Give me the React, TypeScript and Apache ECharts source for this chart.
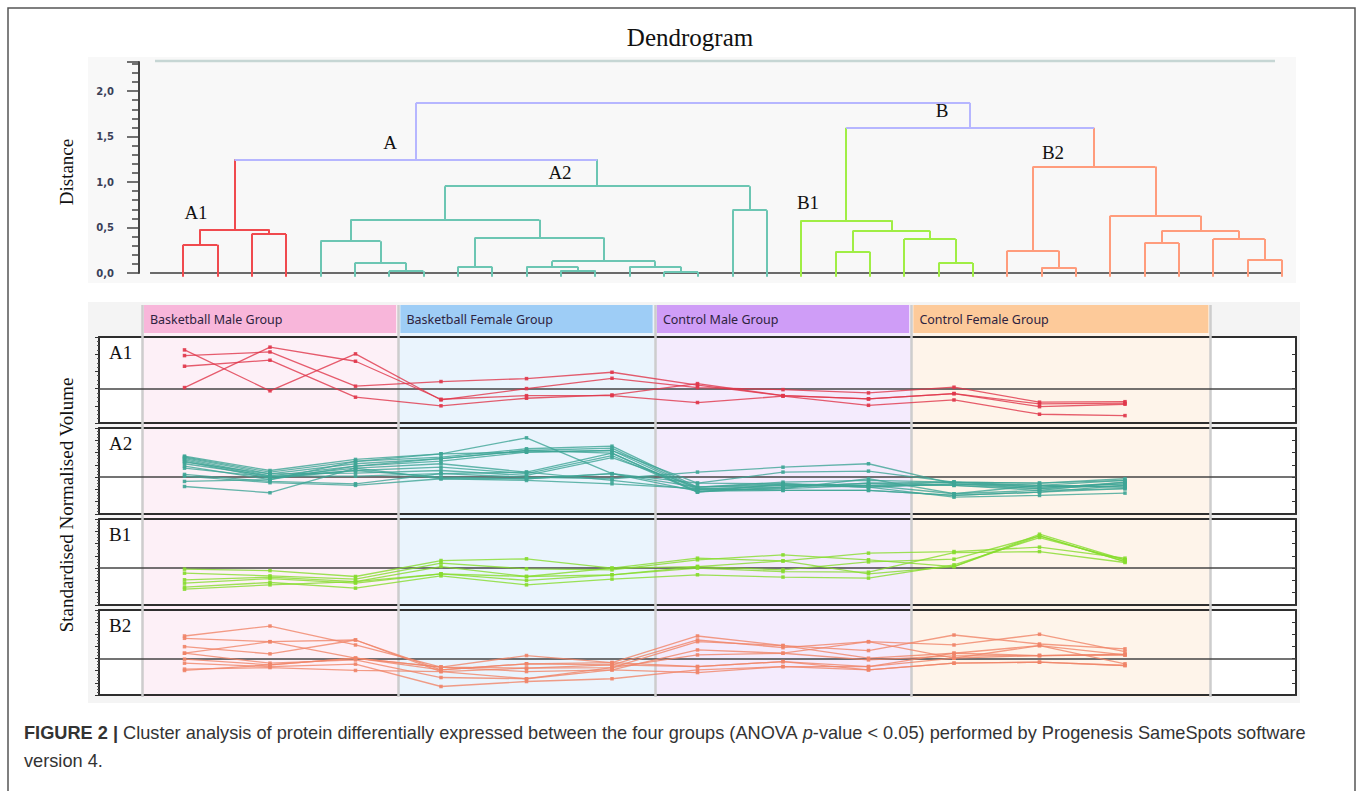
import React, { useEffect, useRef } from 'react';
import * as echarts from 'echarts';

// ---------------- Dendrogram data ----------------
const leafCount = 33;
const leafBottom = -0.04;
// merge k creates node id leafCount + k
const mergePairs: [number, number][] = [
  [0, 1], [2, 3], [33, 34],
  [6, 7], [5, 36], [4, 37], [8, 9], [11, 12], [10, 40], [14, 15], [13, 42], [41, 43], [39, 44], [38, 45], [16, 17], [46, 47],
  [35, 48],
  [19, 20], [22, 23], [21, 51], [50, 52], [18, 53],
  [25, 26], [24, 55], [28, 29], [31, 32], [30, 58], [57, 59], [27, 60], [56, 61],
  [54, 62],
  [49, 63],
];
const mergeHeights = [
  0.31, 0.43, 0.48,
  0.02, 0.11, 0.35, 0.07, 0.03, 0.07, 0.01, 0.07, 0.13, 0.39, 0.585, 0.69, 0.955,
  1.25,
  0.235, 0.11, 0.375, 0.465, 0.58,
  0.06, 0.245, 0.33, 0.145, 0.375, 0.465, 0.63, 1.17,
  1.597,
  1.87,
];
const mergeCluster = [
  'A1', 'A1', 'A1',
  'A2', 'A2', 'A2', 'A2', 'A2', 'A2', 'A2', 'A2', 'A2', 'A2', 'A2', 'A2', 'A2',
  'top',
  'B1', 'B1', 'B1', 'B1', 'B1',
  'B2', 'B2', 'B2', 'B2', 'B2', 'B2', 'B2', 'B2',
  'top',
  'top',
];
const clusterLabels = ['A1', 'A', 'A2', 'B1', 'B', 'B2'];
const clusterLabelPos: [number, number][] = [[196, 212], [390, 142], [560, 172], [808, 202], [942, 110], [1053, 152]];

// ---------------- Profile data ----------------
const groupNames = ['Basketball Male Group', 'Basketball Female Group', 'Control Male Group', 'Control Female Group'];
const groupBounds = [-0.5, 2.5, 5.5, 8.5, 12];
const panelNames = ['A1', 'A2', 'B1', 'B2'];

const profilesA1 = [
  [2.25, -0.13, 2.02, -0.66, 0.0, 0.6, 0.06, -0.06, -0.25, 0.08, -0.79, -0.76],
  [0.06, 2.41, 1.59, -0.62, -0.41, -0.41, -0.81, -0.44, -0.97, -0.66, -1.49, -1.57],
  [1.92, 2.13, 0.14, 0.41, 0.58, 0.95, 0.2, -0.41, -0.6, -0.29, -0.89, -0.85],
  [1.3, 1.65, -0.5, -1.0, -0.56, -0.37, 0.29, -0.41, -0.6, -0.29, -1.05, -0.91],
];
const profilesA2 = [
  [1.71, 0.54, 1.44, 1.9, 3.2, 0.28, -0.49, -0.54, -0.67, -0.41, -0.81, -0.54],
  [1.65, 0.4, 1.28, 1.63, 2.31, 2.52, -0.81, -0.67, -0.81, -0.54, -0.94, -0.67],
  [1.58, 0.27, 1.09, 1.5, 2.17, 2.36, -0.94, -0.81, -0.49, -0.67, -1.08, -0.41],
  [1.5, 0.1, 0.89, 1.3, 2.03, 2.17, -1.02, -0.94, -0.67, -1.35, -0.67, -0.27],
  [1.41, 0.0, 0.73, 1.09, 0.41, 1.95, -1.14, -1.08, -1.08, -1.49, -1.22, -0.94],
  [1.3, -0.1, 0.54, 0.81, 0.28, 1.76, -1.22, -0.54, -0.81, -1.63, -1.49, -1.3],
  [1.22, 0.27, 0.33, 0.54, 0.14, 1.58, -0.81, -0.41, -0.27, -0.41, -0.49, -0.13],
  [1.09, 0.1, 0.08, 0.28, 0.0, -0.13, 0.41, 0.81, 1.09, -0.54, -0.81, -0.54],
  [0.89, -0.2, 1.28, 1.9, 2.03, 2.17, -0.49, 0.41, 0.49, -0.41, -0.67, -0.81],
  [0.73, 0.0, 0.54, 0.0, -0.13, 0.28, -1.14, -0.94, -0.13, -1.35, -1.08, -0.94],
  [0.22, -0.35, -0.54, 0.28, 0.41, -0.27, -1.02, -0.67, -0.67, -0.67, -0.94, -0.41],
  [0.08, -0.45, -0.67, -0.13, -0.27, -0.54, -0.94, -1.08, -1.08, -1.49, -1.22, -0.67],
  [-0.35, -0.2, 0.89, 1.5, 2.17, 1.95, -1.22, -0.81, -0.49, -0.41, -0.49, -0.27],
  [-0.76, -1.27, 0.73, -0.13, -0.13, 0.28, -0.81, -0.54, -0.81, -0.54, -0.67, -0.81],
];
const profilesB1 = [
  [-0.08, -0.2, -0.68, 0.62, 0.76, 0.0, 0.81, 0.59, 1.22, 1.35, 1.71, 0.81],
  [-0.41, -0.63, -0.89, 0.41, -0.06, -0.14, 0.68, 1.08, 0.68, 0.13, 2.76, 0.68],
  [-0.95, -0.73, -1.09, 0.13, -0.68, 0.0, 0.13, -0.14, 0.51, 0.73, 2.63, 0.54],
  [-1.22, -0.85, -1.22, -0.46, -1.0, -0.54, 0.0, -0.28, -0.33, 1.27, 1.35, 0.46],
  [-1.54, -1.17, -1.63, -0.63, -1.36, -0.89, -0.54, -0.73, -0.81, 0.27, 2.49, 0.68],
  [-1.71, -1.36, -1.09, -0.46, -0.68, -0.54, 0.13, 0.59, -0.46, 0.13, 2.63, 0.54],
];
const profilesB2 = [
  [1.86, 2.68, 1.12, -0.7, 0.25, -0.33, 1.86, 1.07, 0.66, 1.94, 1.2, 0.8],
  [1.67, 1.39, 1.53, -0.93, -0.43, -0.52, 1.53, 0.9, 1.39, 1.12, 2.0, 0.57],
  [0.98, 0.39, 1.53, -1.07, -0.79, -0.74, 1.39, 1.07, 0.03, 0.44, 1.07, 0.3],
  [0.44, 1.39, 0.03, -0.7, -1.07, -0.93, 0.71, 0.44, -0.11, 0.22, 0.25, 0.36],
  [0.44, -0.38, -0.11, -1.56, -1.66, -0.74, 0.3, 0.44, 1.39, 0.03, 1.07, -0.43],
  [-0.05, -0.52, 0.03, -0.93, -0.43, -0.33, -0.66, -0.25, -0.66, 0.44, 0.25, 0.3],
  [-0.38, -0.66, -0.46, -2.3, -1.89, -1.66, -0.93, -0.66, -0.93, -0.38, -0.3, -0.57],
  [-0.87, -0.74, -0.98, -1.07, -1.66, -0.93, -1.15, -0.66, -0.66, 0.03, 0.25, 0.3],
  [-0.98, -0.52, 0.03, -0.7, -0.79, -0.52, -0.66, -0.25, -0.93, -0.38, -0.3, -0.57],
];
const panelProfiles = [profilesA1, profilesA2, profilesB1, profilesB2];
const panelRanges: [number, number][] = [[-2, 3], [-3, 4], [-3, 4], [-3, 4]];

// ---------------- Styles ----------------
const clusterColors: Record<string, string> = {
  A1: '#f04a4e', A2: '#6cc6b3', B1: '#a0ee45', B2: '#ff9c7c', top: '#b6b6ff',
};
const profileColors = ['#e0364a', '#3ea596', '#86dc2c', '#f08468'];
const headerColors = ['#f8b6da', '#9ecdf6', '#cf9df7', '#fdca9a'];
const columnColors = ['#fdf0f7', '#eaf4fd', '#f4ebfd', '#fef4ea'];
const serif = '"Liberation Serif", "Times New Roman", serif';
const sans = '"Liberation Sans", Arial, sans-serif';

const panelTops = [337, 428, 519, 610];
const panelHeights = [86, 86, 86, 85];

export default function App() {
  const ref = useRef<HTMLDivElement>(null);
  useEffect(() => {
    if (!ref.current) return;
    const chart = echarts.init(ref.current, null, { renderer: 'svg' });

    // dendrogram geometry from the tree
    const nodeX: number[] = [];
    const nodeH: number[] = [];
    const nodeCl: string[] = [];
    for (let i = 0; i < leafCount; i++) { nodeX[i] = i; nodeH[i] = leafBottom; }
    mergePairs.forEach(([l, r], k) => {
      const id = leafCount + k;
      nodeX[id] = (nodeX[l] + nodeX[r]) / 2;
      nodeH[id] = mergeHeights[k];
      nodeCl[id] = mergeCluster[k];
    });
    const segs: any[] = [];
    segs.push({ coords: [[-0.96, 0], [leafCount - 1 + 0.03, 0]], lineStyle: { color: '#6a6a6a', width: 2, opacity: 1 } });
    mergePairs.forEach(([l, r], k) => {
      const h = mergeHeights[k];
      const col = clusterColors[mergeCluster[k]];
      [l, r].forEach((c) => {
        const cc = c < leafCount ? col : clusterColors[nodeCl[c]];
        segs.push({ coords: [[nodeX[c], h], [nodeX[c], nodeH[c]]], lineStyle: { color: cc, width: 2, opacity: 1 } });
      });
      segs.push({ coords: [[nodeX[l], h], [nodeX[r], h]], lineStyle: { color: col, width: 2, opacity: 1 } });
    });

    const grids: any[] = [
      { left: 139, top: 62, width: 1151, height: 211 },
      { left: 99, top: 305, width: 1197, height: 392 },
      { left: 99, top: 305, width: 1197, height: 28 },
    ];
    const xAxes: any[] = [
      { type: 'value', gridIndex: 0, min: -1.2813, max: 32.236, show: false, axisLine: { onZero: false } },
      { type: 'value', gridIndex: 1, min: -1, max: 13, show: false, axisLine: { onZero: false } },
      { type: 'value', gridIndex: 2, min: -1, max: 13, show: false, axisLine: { onZero: false } },
    ];
    const yAxes: any[] = [
      {
        type: 'value', gridIndex: 0, min: 0, max: 2.32, interval: 0.5, z: 4,
        axisLine: { show: true, onZero: false, lineStyle: { color: '#444', width: 2 } },
        axisTick: { show: true, length: 12, lineStyle: { color: '#444', width: 1.5 } },
        minorTick: { show: true, splitNumber: 5, length: 7, lineStyle: { color: '#444', width: 1.5 } },
        splitLine: { show: false },
        axisLabel: {
          show: true, margin: 25, showMaxLabel: false, fontSize: 10, fontWeight: 'bold',
          fontFamily: '"DejaVu Sans", Verdana, sans-serif', color: '#3a3f58',
          formatter: (v: number) => v.toFixed(1).replace('.', ','),
        },
      },
      { type: 'value', gridIndex: 1, min: 0, max: 1, show: false, axisLine: { onZero: false } },
      { type: 'value', gridIndex: 2, min: 0, max: 1, show: false, axisLine: { onZero: false } },
    ];
    const series: any[] = [
      {
        type: 'lines', coordinateSystem: 'cartesian2d', xAxisIndex: 0, yAxisIndex: 0,
        polyline: false, silent: true, z: 5, clip: false,
        lineStyle: { width: 2, opacity: 1, curveness: 0 },
        data: segs,
      },
      {
        type: 'line', xAxisIndex: 1, yAxisIndex: 1, z: 1, silent: true, symbol: 'none',
        lineStyle: { opacity: 0 }, data: [[-1, 0]],
        markArea: {
          silent: true,
          data: groupNames.map((n, g) => [
            { xAxis: groupBounds[g], itemStyle: { color: columnColors[g] } },
            { xAxis: groupBounds[g + 1] },
          ]),
        },
      },
      {
        type: 'line', xAxisIndex: 2, yAxisIndex: 2, z: 2, silent: true, symbol: 'none',
        lineStyle: { opacity: 0 }, data: [[-1, 0]],
        markArea: {
          silent: true,
          label: { show: true, position: 'insideLeft', distance: 6, color: '#2e2340', fontSize: 12.5, fontFamily: '"Noto Sans", sans-serif' },
          data: groupNames.map((n, g) => [
            { name: n, xAxis: groupBounds[g] + 0.025, itemStyle: { color: headerColors[g] } },
            { xAxis: groupBounds[g + 1] - 0.025 },
          ]),
        },
      },
      {
        type: 'line', xAxisIndex: 1, yAxisIndex: 1, z: 3, silent: true, symbol: 'none',
        lineStyle: { opacity: 0 }, data: [[-1, 0]],
        markLine: {
          silent: true, symbol: ['none', 'none'], label: { show: false },
          lineStyle: { color: '#cdcdcd', width: 2.5, type: 'solid' },
          data: groupBounds.map((b) => ({ xAxis: b })),
        },
      },
    ];

    panelNames.forEach((p, pi) => {
      const gi = grids.length;
      grids.push({ left: 99, top: panelTops[pi], width: 1197, height: panelHeights[pi], show: true, backgroundColor: '#ffffff', borderWidth: 0 });
      const xb = xAxes.length;
      const axLine = { show: true, onZero: false, lineStyle: { color: '#2e2e2e', width: 2 } };
      xAxes.push({ type: 'value', gridIndex: gi, min: -1, max: 13, position: 'bottom', z: 4, axisLine: axLine, axisTick: { show: false }, axisLabel: { show: false }, splitLine: { show: false } });
      xAxes.push({ type: 'value', gridIndex: gi, min: -1, max: 13, position: 'top', z: 4, axisLine: axLine, axisTick: { show: false }, axisLabel: { show: false }, splitLine: { show: false } });
      const yb = yAxes.length;
      const [mn, mx] = panelRanges[pi];
      yAxes.push({
        type: 'value', gridIndex: gi, min: mn, max: mx, interval: 1, position: 'left', z: 4,
        axisLine: axLine,
        axisTick: { show: true, inside: false, length: 4, lineStyle: { color: '#333', width: 1 } },
        minorTick: { show: true, splitNumber: 4, length: 2, lineStyle: { color: '#555', width: 1 } },
        axisLabel: { show: false }, splitLine: { show: false },
      });
      yAxes.push({
        type: 'value', gridIndex: gi, min: mn, max: mx, interval: 1, position: 'right', z: 4,
        axisLine: axLine,
        axisTick: { show: true, inside: true, length: 4, lineStyle: { color: '#333', width: 1 } },
        axisLabel: { show: false }, splitLine: { show: false },
      });
      panelProfiles[pi].forEach((vals, li) => {
        const s: any = {
          type: 'line', xAxisIndex: xb, yAxisIndex: yb, z: 6, silent: true,
          symbol: 'rect', symbolSize: 3.5,
          lineStyle: { width: 1.3, color: profileColors[pi], opacity: 0.8 },
          itemStyle: { color: profileColors[pi], opacity: 0.9 },
          data: vals.map((v, i) => [i, v]),
        };
        if (li === 0) {
          s.markLine = {
            silent: true, symbol: ['none', 'none'], label: { show: false },
            lineStyle: { color: '#444', width: 1.6, type: 'solid', opacity: 1 },
            data: [{ yAxis: 0 }],
          };
        }
        series.push(s);
      });
    });

    const txt = (x: number, y: number, text: string, font: string, extra: any = {}) => ({
      type: 'text', x, y, silent: true, ...extra,
      style: {
        text, font, fill: '#111',
        align: extra.align || 'left', textAlign: extra.align || 'left',
        verticalAlign: 'middle', textVerticalAlign: 'middle',
      },
    });

    const capSize = 18.2;
    const graphics: any[] = [
      { type: 'rect', z: -10, silent: true, shape: { x: 88, y: 57, width: 1208, height: 226 }, style: { fill: '#f8f8f8' } },
      { type: 'rect', z: -10, silent: true, shape: { x: 88, y: 302, width: 1212, height: 401 }, style: { fill: '#f4f4f4' } },
      { type: 'line', z: 1, silent: true, shape: { x1: 155, y1: 61, x2: 1275, y2: 61 }, style: { stroke: '#c6d6d4', lineWidth: 2.5 } },
      { type: 'rect', z: 10, silent: true, shape: { x: 8, y: 8, width: 1347, height: 800 }, style: { fill: 'none', stroke: '#555', lineWidth: 1.5 } },
      txt(690, 37, 'Dendrogram', `25px ${serif}`, { align: 'center' }),
      { ...txt(0, 0, 'Distance', `19px ${serif}`, { align: 'center' }), x: 66, y: 172, rotation: Math.PI / 2 },
      { ...txt(0, 0, 'Standardised Normalised Volume', `19px ${serif}`, { align: 'center' }), x: 66, y: 505, rotation: Math.PI / 2 },
    ];
    clusterLabels.forEach((l, i) => {
      graphics.push(txt(clusterLabelPos[i][0], clusterLabelPos[i][1], l, `19px ${serif}`, { align: 'center' }));
    });
    panelNames.forEach((p, pi) => {
      graphics.push(txt(109, panelTops[pi] + 15, p, `19px ${serif}`));
    });
    graphics.push({
      type: 'text', x: 24, y: 733, silent: true,
      style: {
        text: '{b|FIGURE 2 |} Cluster analysis of protein differentially expressed between the four groups (ANOVA {i|p}-value < 0.05) performed by Progenesis SameSpots software',
        fontSize: capSize, fontFamily: sans, fill: '#333',
        verticalAlign: 'middle', textVerticalAlign: 'middle',
        rich: {
          b: { fontSize: capSize, fontFamily: sans, fontWeight: 'bold', fill: '#333', color: '#333' },
          i: { fontSize: capSize, fontFamily: sans, fontStyle: 'italic', fill: '#333', color: '#333' },
        },
      },
    });
    graphics.push({
      type: 'text', x: 24, y: 761, silent: true,
      style: { text: 'version 4.', fontSize: capSize, fontFamily: sans, fill: '#333', verticalAlign: 'middle', textVerticalAlign: 'middle' },
    });

    chart.setOption({
      animation: false,
      backgroundColor: '#ffffff',
      grid: grids,
      xAxis: xAxes,
      yAxis: yAxes,
      series,
      graphic: { elements: graphics },
    });
    return () => chart.dispose();
  }, []);
  return <div ref={ref} style={{ position: 'fixed', left: 0, top: 0, width: 1357, height: 791 }} />;
}
